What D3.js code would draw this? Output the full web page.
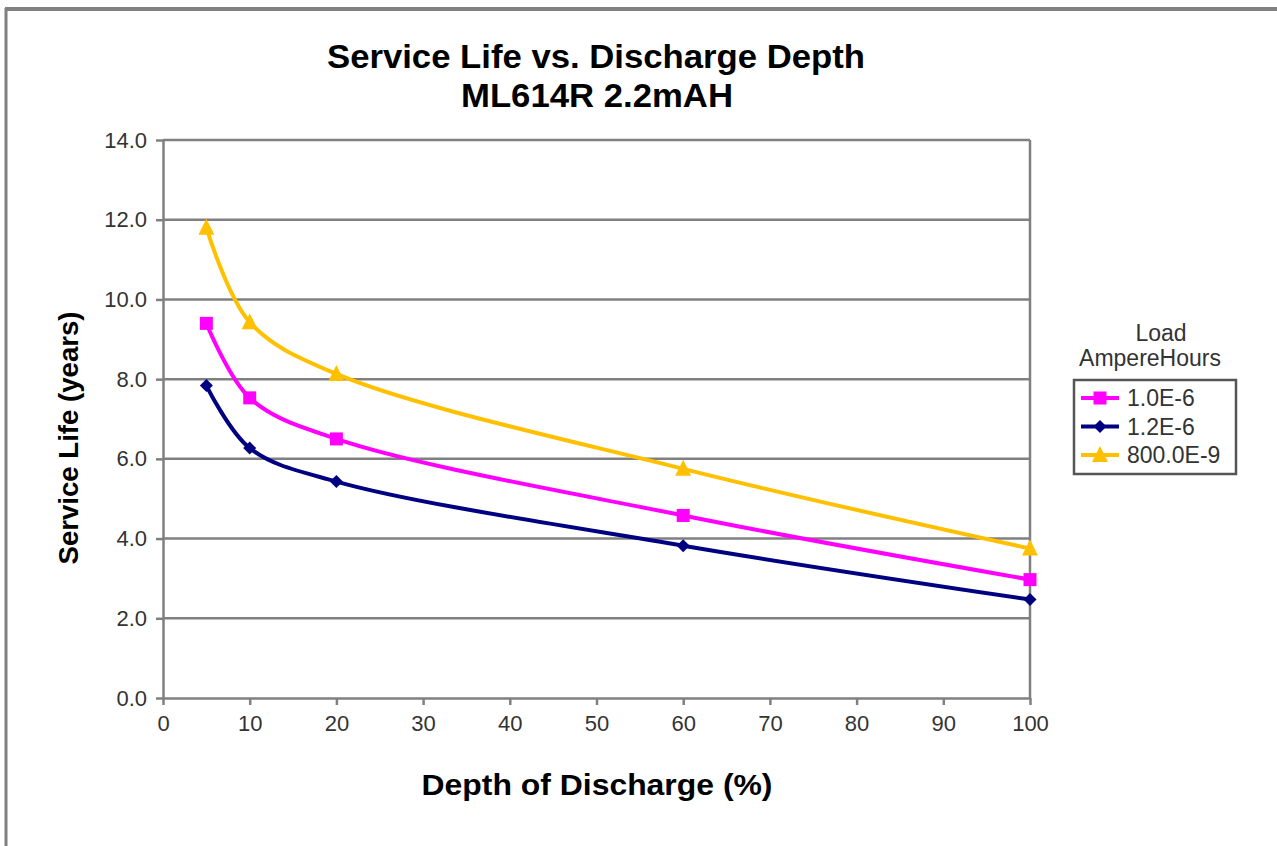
<meta charset="utf-8">
<style>
    body{ margin:0; background:#fff; }
    svg{ display:block; }
</style>
<script src="https://cdnjs.cloudflare.com/ajax/libs/d3/7.8.5/d3.min.js"></script>
<body>
<div id="chart"></div>
<script>
    // data
    depth = [5, 10, 20, 60, 100];
    series_names = ["1.0E-6", "1.2E-6", "800.0E-9"];
    life_1_0e6 = [9.4, 7.53, 6.5, 4.58, 2.97];
    life_1_2e6 = [7.84, 6.27, 5.43, 3.82, 2.47];
    life_800e9 = [11.8, 9.43, 8.13, 5.75, 3.75];
    x_ticks = [0, 10, 20, 30, 40, 50, 60, 70, 80, 90, 100];
    y_ticks = [0, 2, 4, 6, 8, 10, 12, 14];

    series = [
        {name: series_names[0], values: life_1_0e6, color: "#ff00ff", marker: "square"},
        {name: series_names[1], values: life_1_2e6, color: "#000080", marker: "diamond"},
        {name: series_names[2], values: life_800e9, color: "#ffc000", marker: "triangle"}
    ];

    W = 1277; H = 846;
    FONT = "'Liberation Sans', Arial, sans-serif";
    svg = d3.select("#chart").append("svg")
            .attr("width", W).attr("height", H)
            .style("font-family", FONT);

    // outer frame (top + left edges only visible)
    svg.append("line").attr("x1", 5).attr("y1", 9).attr("x2", W).attr("y2", 9)
       .attr("stroke", "#808080").attr("stroke-width", 4);
    svg.append("line").attr("x1", 6).attr("y1", 8).attr("x2", 6).attr("y2", H)
       .attr("stroke", "#808080").attr("stroke-width", 3);

    pLeft = 163; pRight = 1030; pTop = 140; pBottom = 698;
    x = d3.scaleLinear().domain([0, 100]).range([pLeft, pRight]);
    y = d3.scaleLinear().domain([0, 14]).range([pBottom, pTop]);

    // grid
    svg.append("g").selectAll("line").data(y_ticks.filter(d => d > 0)).join("line")
       .attr("x1", pLeft).attr("x2", pRight)
       .attr("y1", d => y(d)).attr("y2", d => y(d))
       .attr("stroke", "#808080").attr("stroke-width", 2.5);
    svg.append("line").attr("x1", pRight).attr("x2", pRight).attr("y1", pTop).attr("y2", pBottom)
       .attr("stroke", "#808080").attr("stroke-width", 2.5);

    // axes
    xAxis = svg.append("g").attr("transform", "translate(0," + pBottom + ")")
       .call(d3.axisBottom(x).tickValues(x_ticks).tickSize(7).tickSizeOuter(0).tickPadding(10));
    yAxis = svg.append("g").attr("transform", "translate(" + pLeft + ",0)")
       .call(d3.axisLeft(y).tickValues(y_ticks).tickSize(7).tickSizeOuter(0).tickPadding(9)
             .tickFormat(d3.format(".1f")));
    [xAxis, yAxis].forEach(function(a){
        a.selectAll("path,line").attr("stroke", "#808080").attr("stroke-width", 2.5);
        a.selectAll("text").attr("fill", "#333").style("font-size", "22px")
         .style("font-family", FONT);
    });

    // titles
    function bold(tx, ty, size, len, txt, rot){
        t = svg.append("text").attr("text-anchor", "middle")
           .attr("transform", "translate(" + tx + "," + ty + ")" + (rot ? " rotate(-90)" : ""))
           .style("font-size", size + "px").style("font-weight", "bold")
           .attr("textLength", len).attr("lengthAdjust", "spacingAndGlyphs")
           .text(txt);
    }
    bold(596, 68, 33, 538, "Service Life vs. Discharge Depth");
    bold(597, 107, 33, 272, "ML614R 2.2mAH");
    bold(597, 795, 30, 351, "Depth of Discharge (%)");
    bold(78, 438, 28, 253, "Service Life (years)", true);

    line = d3.line().x(d => x(d[0])).y(d => y(d[1])).curve(d3.curveCatmullRom.alpha(0.5));

    function marker(g, type, color){
        if(type == "square"){
            g.append("rect").attr("x", -6.5).attr("y", -6.5).attr("width", 13).attr("height", 13).attr("fill", color);
        } else if(type == "diamond"){
            g.append("path").attr("d", "M0,-6.5L6.5,0L0,6.5L-6.5,0Z").attr("fill", color);
        } else {
            g.append("path").attr("d", "M0,-9L8,7L-8,7Z").attr("fill", color);
        }
    }

    series.forEach(function(s){
        pts = depth.map((d, i) => [d, s.values[i]]);
        svg.append("path").datum(pts).attr("d", line)
           .attr("fill", "none").attr("stroke", s.color).attr("stroke-width", 4);
        pts.forEach(function(p){
            marker(svg.append("g").attr("transform", "translate(" + x(p[0]) + "," + y(p[1]) + ")"), s.marker, s.color);
        });
    });

    // legend
    svg.append("text").attr("x", 1161).attr("y", 341).attr("text-anchor", "middle")
       .attr("fill", "#333").style("font-size", "23px").text("Load");
    svg.append("text").attr("x", 1150).attr("y", 366).attr("text-anchor", "middle")
       .attr("fill", "#333").style("font-size", "23px").text("AmpereHours");
    svg.append("rect").attr("x", 1074).attr("y", 380).attr("width", 162).attr("height", 94)
       .attr("fill", "none").attr("stroke", "#555").attr("stroke-width", 2.5);
    series.forEach(function(s, i){
        ly = 398 + i * 28.5;
        svg.append("line").attr("x1", 1081).attr("x2", 1119).attr("y1", ly).attr("y2", ly)
           .attr("stroke", s.color).attr("stroke-width", 4);
        marker(svg.append("g").attr("transform", "translate(1100," + ly + ")"), s.marker, s.color);
        svg.append("text").attr("x", 1127).attr("y", ly + 8).attr("fill", "#333")
           .style("font-size", "23px").text(s.name);
    });
</script>
</body>
